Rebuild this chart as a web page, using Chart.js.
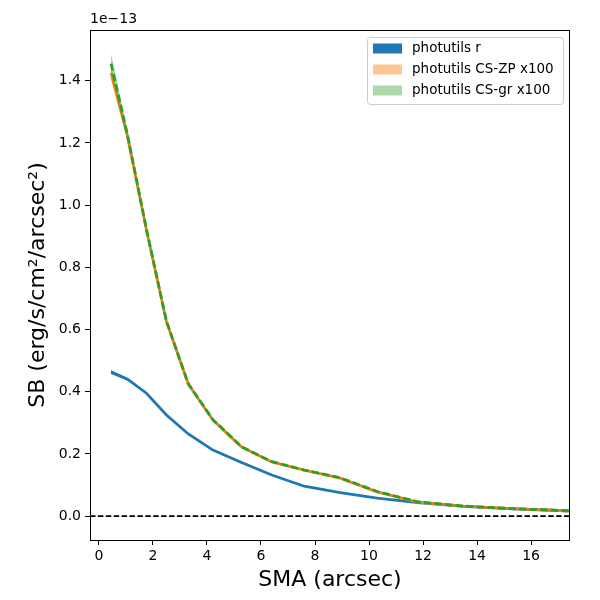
<!DOCTYPE html>
<html>
<head>
<meta charset="utf-8">
<script src="https://cdn.jsdelivr.net/npm/chart.js@4/dist/chart.umd.min.js"></script>
<style>
  body { margin: 0; background: #fff; }
  canvas { display: block; }
</style>
</head>
<body>
<canvas id="sb" width="600" height="600"></canvas>
<script>
// semi-major axis samples (arcsec)
const sma = [0.45, 1.06, 1.76, 2.5, 3.31, 4.22, 5.28, 6.4, 7.6, 8.93, 10.3, 11.8, 13.5, 15.3, 17.3, 17.7];

// surface brightness, in units of 1e-13 erg/s/cm2/arcsec2
const sbR    = [0.463, 0.440, 0.395, 0.325, 0.264, 0.212, 0.172, 0.132, 0.096, 0.075, 0.058, 0.043, 0.031, 0.023, 0.017, 0.016];
const sbZP   = [1.425, 1.220, 0.920, 0.625, 0.424, 0.309, 0.222, 0.174, 0.148, 0.122, 0.078, 0.045, 0.032, 0.024, 0.017, 0.015];
const sbGR   = [1.455, 1.225, 0.922, 0.627, 0.425, 0.310, 0.223, 0.175, 0.148, 0.123, 0.079, 0.046, 0.032, 0.024, 0.017, 0.015];

// error half-widths (same units)
const errR  = [0.006, 0.004, 0.003, 0.002, 0.002, 0.001, 0.001, 0.001, 0.001, 0.001, 0.001, 0.001, 0.001, 0.001, 0.001, 0.001];
const errZP = [0.020, 0.012, 0.006, 0.004, 0.003, 0.002, 0.002, 0.001, 0.001, 0.001, 0.001, 0.001, 0.001, 0.001, 0.001, 0.001];
const errGR = [0.032, 0.015, 0.008, 0.005, 0.003, 0.002, 0.002, 0.001, 0.001, 0.001, 0.001, 0.001, 0.001, 0.001, 0.001, 0.001];

const xTicks = [0, 2, 4, 6, 8, 10, 12, 14, 16];
const yTicks = [0.0, 0.2, 0.4, 0.6, 0.8, 1.0, 1.2, 1.4];
const xLimits = [-0.33, 17.44];
const yLimits = [-0.077, 1.563];

const legendLabels = ["photutils r", "photutils CS-ZP x100", "photutils CS-gr x100"];
const legendColors = ["rgba(31,119,180,1)", "rgba(255,127,14,0.45)", "rgba(44,160,44,0.4)"];

const blue = "#1f77b4";
const orange = "#ff7f0e";
const green = "#2ca02c";

function pts(ys, sign, err) {
    return sma.map((x, i) => ({ x: x, y: ys[i] + (err ? sign * err[i] : 0) }));
}

function band(ys, err, color, idx, order) {
    return [
        { data: pts(ys, 1, err), borderWidth: 0, pointRadius: 0, fill: idx + 1, backgroundColor: color, order: order },
        { data: pts(ys, -1, err), borderWidth: 0, pointRadius: 0, fill: false, order: order }
    ];
}

const datasets = [
    ...band(sbR, errR, legendColors[0], 0, 5),
    { data: pts(sbR), borderColor: blue, borderWidth: 2.8, pointRadius: 0, fill: false, order: 4 },
    ...band(sbZP, errZP, legendColors[1], 3, 3),
    { data: pts(sbZP), borderColor: orange, borderWidth: 2.8, pointRadius: 0, fill: false, order: 2 },
    ...band(sbGR, errGR, legendColors[2], 6, 1),
    { data: pts(sbGR), borderColor: green, borderWidth: 2.8, borderDash: [7.4, 3.2], pointRadius: 0, fill: false, order: 0 },
    { data: [{ x: xLimits[0], y: 0 }, { x: xLimits[1], y: 0 }], borderColor: "#000", borderWidth: 1.8, borderDash: [5.5, 2.4], pointRadius: 0, fill: false, order: 10 }
];

const frame = {
    id: "frame",
    afterDraw(chart) {
        const ctx = chart.ctx;
        const a = chart.chartArea;
        ctx.save();
        ctx.strokeStyle = "#000";
        ctx.lineWidth = 1;
        ctx.strokeRect(a.left + 0.5, a.top + 0.5, a.right - a.left - 1, a.bottom - a.top);

        // offset text
        ctx.fillStyle = "#000";
        ctx.font = "14px 'DejaVu Sans'";
        ctx.textBaseline = "bottom";
        ctx.textAlign = "left";
        ctx.fillText("1e\u221213", a.left, a.top - 4);

        // legend
        const bx = 367, by = 37, bw = 196, bh = 67;
        ctx.fillStyle = "rgba(255,255,255,0.8)";
        ctx.strokeStyle = "#cccccc";
        ctx.beginPath();
        ctx.roundRect(bx + 0.5, by + 0.5, bw, bh, 3);
        ctx.fill();
        ctx.stroke();
        ctx.font = "13.5px 'DejaVu Sans'";
        ctx.textBaseline = "middle";
        legendLabels.forEach((lab, i) => {
            const cy = by + 11.5 + i * 21;
            ctx.fillStyle = legendColors[i];
            ctx.fillRect(373, cy - 5, 29, 10);
            ctx.fillStyle = "#000";
            ctx.fillText(lab, 412, cy);
        });
        ctx.restore();
    }
};

new Chart(document.getElementById("sb"), {
    type: "line",
    data: { datasets: datasets },
    plugins: [frame],
    options: {
        responsive: false,
        animation: false,
        devicePixelRatio: 1,
        layout: { padding: { left: 0, right: 30, top: 30, bottom: 0 } },
        plugins: { legend: { display: false }, tooltip: { enabled: false } },
        elements: { line: { tension: 0 } },
        scales: {
            x: {
                type: "linear",
                min: xLimits[0],
                max: xLimits[1],
                afterBuildTicks: s => { s.ticks = xTicks.map(v => ({ value: v })); },
                afterFit: s => { s.height = 60; },
                grid: { drawOnChartArea: false, drawTicks: true, tickLength: 5, tickColor: "#000" },
                border: { display: false },
                ticks: { color: "#000", font: { family: "DejaVu Sans", size: 14 }, padding: 3, maxRotation: 0,
                         callback: v => String(v) },
                title: { display: true, text: "SMA (arcsec)", color: "#000",
                         font: { family: "DejaVu Sans", size: 22 }, padding: { top: 0, bottom: 7 } }
            },
            y: {
                type: "linear",
                min: yLimits[0],
                max: yLimits[1],
                afterBuildTicks: s => { s.ticks = yTicks.map(v => ({ value: v })); },
                afterFit: s => { s.width = 90; },
                grid: { drawOnChartArea: false, drawTicks: true, tickLength: 5, tickColor: "#000" },
                border: { display: false },
                ticks: { color: "#000", font: { family: "DejaVu Sans", size: 14 }, padding: 4,
                         callback: v => v.toFixed(1) },
                title: { display: true, text: "SB (erg/s/cm\u00b2/arcsec\u00b2)", color: "#000",
                         font: { family: "DejaVu Sans", size: 22 }, padding: { top: 25, bottom: 0 } }
            }
        }
    }
});
</script>
</body>
</html>
